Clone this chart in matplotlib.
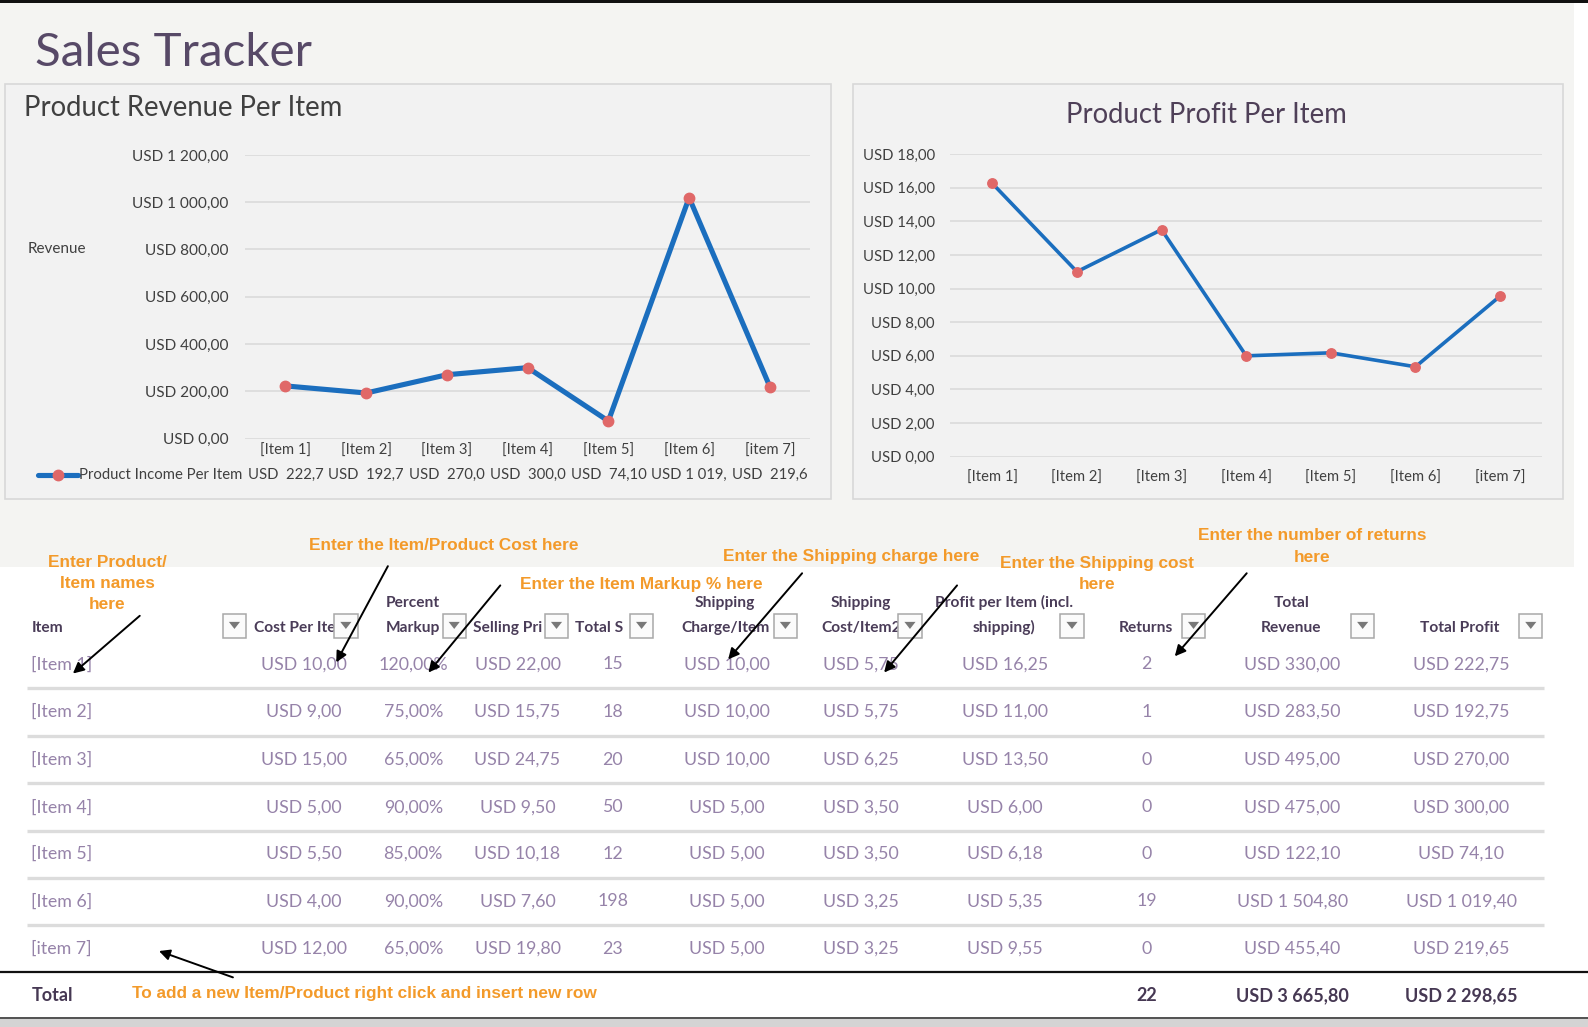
import matplotlib
matplotlib.use("Agg")
import matplotlib.pyplot as plt
from matplotlib.patches import Rectangle, Polygon
from matplotlib.ticker import FixedLocator, FuncFormatter

# layout is measured in a 1568x1014 grid, the figure is 1588x1027 px
W, H = 1568.0, 1014.0

items = ["[Item 1]", "[Item 2]", "[Item 3]", "[Item 4]", "[Item 5]", "[Item 6]", "[item 7]"]
cost_per_item = [10.00, 9.00, 15.00, 5.00, 5.50, 4.00, 12.00]
markup_pct = [120, 75, 65, 90, 85, 90, 65]
selling_price = [22.00, 15.75, 24.75, 9.50, 10.18, 7.60, 19.80]
total_sold = [15, 18, 20, 50, 12, 198, 23]
shipping_charge = [10.00, 10.00, 10.00, 5.00, 5.00, 5.00, 5.00]
shipping_cost = [5.75, 5.75, 6.25, 3.50, 3.50, 3.25, 3.25]
profit_per_item = [16.25, 11.00, 13.50, 6.00, 6.18, 5.35, 9.55]
returns = [2, 1, 0, 0, 0, 19, 0]
total_revenue = [330.00, 283.50, 495.00, 475.00, 122.10, 1504.80, 455.40]
total_profit = [222.75, 192.75, 270.00, 300.00, 74.10, 1019.40, 219.65]

# cells of the chart's data table, cut off by the cell width like in the sheet
income_cells = ["USD  222,7", "USD  192,7", "USD  270,0", "USD  300,0",
                "USD  74,10", "USD 1 019,", "USD  219,6"]
revenue_ticks = [0, 200, 400, 600, 800, 1000, 1200]
profit_ticks = [0, 2, 4, 6, 8, 10, 12, 14, 16, 18]

BLUE = "#1b6ebe"
RED = "#e06868"
ORANGE = "#f39a2a"
GREY_TXT = "#404040"
HEAD = "#4a3c58"
VAL = "#9683a9"
FONT = ["Lato", "DejaVu Sans"]
NOTE_FONT = ["Liberation Sans Narrow", "Liberation Sans", "DejaVu Sans"]

plt.rcParams["font.family"] = FONT


def usd(v):
    s = f"{v:,.2f}".replace(",", " ").replace(".", ",")
    return "USD " + s


def box(x0, y0, x1, y1):
    return [x0 / W, 1 - y1 / H, (x1 - x0) / W, (y1 - y0) / H]


fig = plt.figure(figsize=(15.88, 10.27), dpi=100)
fig.patch.set_facecolor("white")

bg = fig.add_axes([0, 0, 1, 1])
bg.set_xlim(0, W)
bg.set_ylim(H, 0)
bg.axis("off")

# sheet background, top strip, chart frames
bg.add_patch(Rectangle((0, 3), 1554, 557, fc="#f4f4f2", ec="none"))
bg.add_patch(Rectangle((0, 0), W, 3, fc="#111111", ec="none"))
bg.add_patch(Rectangle((5, 83), 816, 410, fc="#f2f2f2", ec="#d8d8d8", lw=1.2))
bg.add_patch(Rectangle((842, 83), 701, 410, fc="#f2f2f2", ec="#d8d8d8", lw=1.2))

bg.text(35, 52, "Sales Tracker", fontsize=34.2, color="#574967", va="center", ha="left")
bg.text(24, 107, "Product Revenue Per Item", fontsize=19.8, color=GREY_TXT, va="center")
bg.text(1191, 114, "Product Profit Per Item", fontsize=19.8, color="#4f4058",
        va="center", ha="center")
bg.text(27, 246, "Revenue", fontsize=11, color=GREY_TXT, va="center")

# ---- revenue chart
ax1 = fig.add_axes(box(242, 153, 800, 433))
ax1.set_facecolor("none")
x = list(range(len(items)))
ax1.plot(x, total_profit, color=BLUE, lw=3.7, marker="o", ms=7.5,
         mfc=RED, mec=RED, zorder=3, clip_on=False)
ax1.set_xlim(-0.5, len(items) - 0.5)
ax1.set_ylim(0, 1200)
ax1.yaxis.set_major_locator(FixedLocator(revenue_ticks))
ax1.yaxis.set_major_formatter(FuncFormatter(lambda v, p: usd(v)))
ax1.set_xticks(x)
ax1.set_xticklabels(items)
ax1.tick_params(axis="y", length=0, pad=11.7, labelsize=11.1, labelcolor=GREY_TXT)
ax1.tick_params(axis="x", length=0, pad=3.5, labelsize=10.6, labelcolor=GREY_TXT)
ax1.grid(axis="y", color="#d9d9d9", lw=1.1)
ax1.set_axisbelow(True)
for s in ax1.spines.values():
    s.set_visible(False)

# data table row under the categories
legend_y = -36.0 / 280.0
tr = ax1.get_xaxis_transform()
for xi, cell in zip(x, income_cells):
    ax1.text(xi, legend_y, cell, transform=tr, ha="center", va="center",
             fontsize=10.7, color=GREY_TXT, clip_on=False)
bg.plot([38, 77], [469, 469], color=BLUE, lw=3.7, solid_capstyle="round")
bg.plot([57], [469], "o", color=RED, ms=7.5)
bg.text(78, 469, "Product Income Per Item", fontsize=10.7, color=GREY_TXT, va="center")

# ---- profit chart
ax2 = fig.add_axes(box(938, 152, 1523, 451))
ax2.set_facecolor("none")
ax2.plot(x, profit_per_item, color=BLUE, lw=2.6, marker="o", ms=6.8,
         mfc=RED, mec=RED, zorder=3, clip_on=False)
ax2.set_xlim(-0.5, len(items) - 0.5)
ax2.set_ylim(0, 18)
ax2.yaxis.set_major_locator(FixedLocator(profit_ticks))
ax2.yaxis.set_major_formatter(FuncFormatter(lambda v, p: usd(v)))
ax2.set_xticks(x)
ax2.set_xticklabels(items)
ax2.tick_params(axis="y", length=0, pad=11, labelsize=10.7, labelcolor=GREY_TXT)
ax2.tick_params(axis="x", length=0, pad=10, labelsize=10.6, labelcolor=GREY_TXT)
ax2.grid(axis="y", color="#d9d9d9", lw=1.1)
ax2.set_axisbelow(True)
for s in ax2.spines.values():
    s.set_visible(False)

# ---- table
header_lines = [
    (31, "left", "", "Item"),
    (251, "left", "", "Cost Per Ite"),
    (408, "center", "Percent", "Markup"),
    (467, "left", "", "Selling Pri"),
    (568, "left", "", "Total S"),
    (716, "center", "Shipping", "Charge/Item"),
    (850, "center", "Shipping", "Cost/Item2"),
    (991, "center", "Profit per Item (incl.", "shipping)"),
    (1131, "center", "", "Returns"),
    (1275, "center", "Total", "Revenue"),
    (1441, "center", "", "Total Profit"),
]
for hx, ha, top, bottom in header_lines:
    if top:
        bg.text(hx, 595, top, fontsize=11.2, fontweight="bold", color=HEAD, ha=ha, va="center")
    bg.text(hx, 620, bottom, fontsize=11.2, fontweight="bold", color=HEAD, ha=ha, va="center")

dropdown_x = [220, 330, 437, 538, 622, 764, 887, 1047, 1167, 1334, 1500]
for dx in dropdown_x:
    bg.add_patch(Rectangle((dx, 606), 23, 24, fc="#fbfbfb", ec="#a8a8a8", lw=1.1, zorder=4))
    bg.add_patch(Polygon([(dx + 6, 614), (dx + 17, 614), (dx + 11.5, 621)],
                         closed=True, fc="#787878", ec="none", zorder=5))

columns = [
    (300, [usd(v) for v in cost_per_item]),
    (408, [f"{v:.2f}".replace(".", ",") + "%" for v in markup_pct]),
    (511, [usd(v) for v in selling_price]),
    (605, [str(v) for v in total_sold]),
    (718, [usd(v) for v in shipping_charge]),
    (850, [usd(v) for v in shipping_cost]),
    (992, [usd(v) for v in profit_per_item]),
    (1132, [str(v) for v in returns]),
    (1276, [usd(v) for v in total_revenue]),
    (1443, [usd(v) for v in total_profit]),
]
row_y = [656, 703, 750, 797, 843, 890, 937]
for ry, name in zip(row_y, items):
    bg.text(31, ry, name, fontsize=12.8, color=VAL, ha="left", va="center")
for cx, cells in columns:
    for ry, cell in zip(row_y, cells):
        bg.text(cx, ry, cell, fontsize=12.8, color=VAL, ha="center", va="center")
for a, b in zip(row_y[:-1], row_y[1:]):
    yy = (a + b) / 2
    bg.plot([27, 1525], [yy, yy], color="#dcdcdc", lw=2.4, solid_capstyle="butt")

# total row
bg.plot([0, W], [960, 960], color="#111111", lw=1.6)
bg.plot([0, W], [1005, 1005], color="#333333", lw=1.2)
bg.add_patch(Rectangle((0, 1006), W, 8, fc="#d4d4d4", ec="none"))
TOT = "#463853"
bg.text(31, 983, "Total", fontsize=13, fontweight="bold", color=TOT, va="center")
bg.text(1132, 983, str(sum(returns)), fontsize=13, fontweight="bold", color=TOT,
        ha="center", va="center")
bg.text(1276, 983, usd(sum(total_revenue)), fontsize=13, fontweight="bold", color=TOT,
        ha="center", va="center")
bg.text(1443, 983, usd(sum(total_profit)), fontsize=13, fontweight="bold", color=TOT,
        ha="center", va="center")

# orange notes and arrows
notes = [
    (106, 555, "center", "Enter Product/"),
    (106, 576, "center", "Item names"),
    (106, 597, "center", "here"),
    (438, 539, "center", "Enter the Item/Product Cost here"),
    (633, 577, "center", "Enter the Item Markup % here"),
    (840, 549, "center", "Enter the Shipping charge here"),
    (1083, 556, "center", "Enter the Shipping cost"),
    (1083, 577, "center", "here"),
    (1296, 529, "center", "Enter the number of returns"),
    (1296, 550, "center", "here"),
    (130, 981, "left", "To add a new Item/Product right click and insert new row"),
]
for nx, ny, ha, txt in notes:
    bg.text(nx, ny, txt, fontsize=12.4, fontweight="bold", color=ORANGE,
            family=NOTE_FONT, ha=ha, va="center", zorder=6)

arrows = [
    ((138, 608), (72, 665)),
    ((383, 559), (332, 654)),
    ((494, 578), (423, 664)),
    ((792, 566), (719, 651)),
    ((945, 578), (873, 664)),
    ((1231, 566), (1160, 648)),
    ((230, 965), (157, 939)),
]
for start, end in arrows:
    bg.annotate("", xy=end, xytext=start,
                arrowprops=dict(arrowstyle="-|>", color="black", lw=1.4,
                                mutation_scale=16, shrinkA=0, shrinkB=0), zorder=7)

fig.savefig("out.png", dpi=100, facecolor="white")
